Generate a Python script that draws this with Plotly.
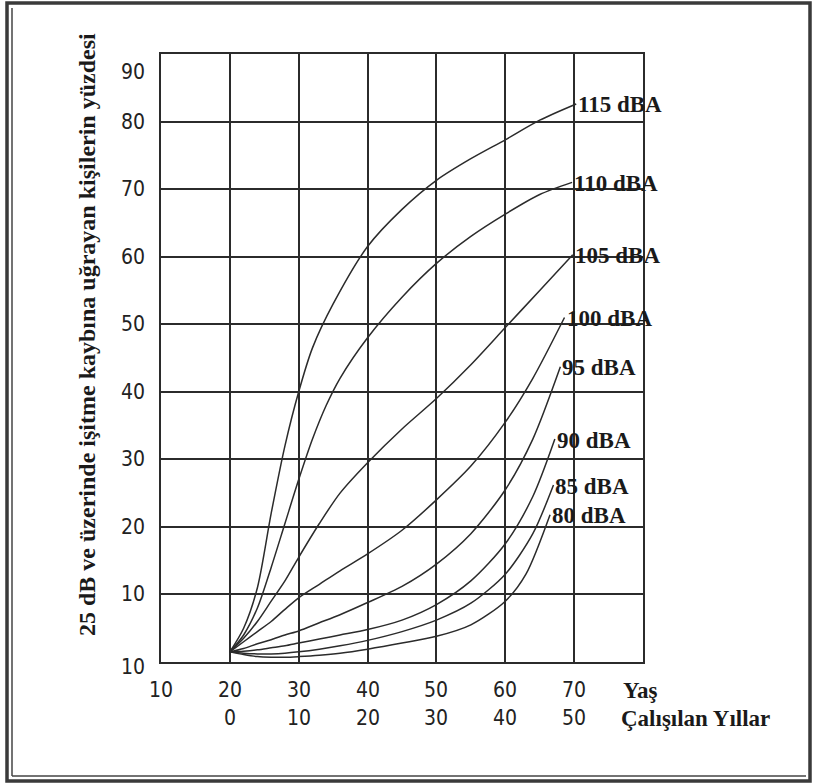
import plotly.graph_objects as go

# ---------------- data ----------------
curve_labels = ["115 dBA", "110 dBA", "105 dBA", "100 dBA", "95 dBA", "90 dBA", "85 dBA", "80 dBA"]

x_115 = [20, 22, 24, 26, 28, 30, 32, 35, 40, 45, 50, 55, 60, 65, 70.3]
y_115 = [1.5, 5, 11, 22, 32, 40, 46.5, 53, 61.5, 67, 71.3, 74.5, 77.3, 80.2, 82.6]

x_110 = [20, 22, 24, 26, 28, 30, 32, 34, 36, 40, 45, 50, 55, 60, 65, 69.7]
y_110 = [1.5, 4, 8, 14, 20.5, 27, 33, 38, 42, 48, 54, 59, 63, 66.3, 69.2, 71]

x_105 = [20, 22, 24, 26, 28, 30, 33, 36, 40, 45, 50, 55, 60, 65, 69.8]
y_105 = [1.5, 3.5, 6, 9, 12, 15.5, 20.5, 25, 29.5, 34.5, 39, 44, 49.5, 55, 60.3]

x_100 = [20, 22, 24, 26, 28, 30, 33, 36, 40, 45, 50, 55, 60, 64, 68.6]
y_100 = [1.5, 3, 4.5, 6, 7.8, 9.5, 11.5, 13.5, 16, 19.5, 24, 29, 35.5, 42, 51]

x_95 = [20, 22, 24, 26, 28, 30, 33, 36, 40, 45, 50, 55, 60, 64, 68]
y_95 = [1.5, 2, 2.7, 3.3, 4, 4.6, 5.8, 7, 8.8, 11.2, 14.5, 19, 25.5, 33, 43.7]

x_90 = [20, 22, 24, 26, 28, 30, 33, 36, 40, 45, 50, 55, 60, 64, 67.2]
y_90 = [1.5, 1.6, 1.8, 2.1, 2.4, 2.8, 3.4, 4.0, 4.8, 6.2, 8.5, 12, 17.5, 24.5, 33]

x_85 = [20, 22, 24, 26, 28, 30, 33, 36, 40, 45, 50, 55, 60, 64, 67]
y_85 = [1.5, 1.3, 1.2, 1.2, 1.3, 1.5, 1.9, 2.4, 3.2, 4.5, 6.2, 8.7, 13, 19, 26.2]

x_80 = [20, 22, 24, 26, 28, 30, 33, 36, 40, 45, 50, 55, 60, 63, 66.5]
y_80 = [1.5, 1.1, 0.8, 0.7, 0.7, 0.8, 1.0, 1.3, 1.9, 2.8, 3.8, 5.5, 9, 13, 21.8]

curves_x = [x_115, x_110, x_105, x_100, x_95, x_90, x_85, x_80]
curves_y = [y_115, y_110, y_105, y_100, y_95, y_90, y_85, y_80]

y_tick_values = [0, 10, 20, 30, 40, 50, 60, 70, 80, 90]
y_tick_text = ["10", "10", "20", "30", "40", "50", "60", "70", "80", "90"]
x_tick_values = [10, 20, 30, 40, 50, 60, 70, 80]
age_values = [10, 20, 30, 40, 50, 60, 70]
age_text = ["10", "20", "30", "40", "50", "60", "70"]
work_values = [20, 30, 40, 50, 60, 70]
work_text = ["0", "10", "20", "30", "40", "50"]

y_title = "25 dB ve üzerinde işitme kaybına uğrayan kişilerin yüzdesi"
age_title = "Yaş"
work_title = "Çalışılan Yıllar"

# ---------------- layout geometry ----------------
W, H = 813, 783
L, R, T, B = 161, 170, 54, 121
PW, PH = W - L - R, H - T - B


def px(xp):
    return (xp - L) / PW


def py(yp):
    return (H - B - yp) / PH


LINE = "#2b2b2b"
NUM_FONT = dict(family="Liberation Sans Narrow, DejaVu Sans Condensed, Arial Narrow, sans-serif",
                size=21, color="#222222")
BOLD_SERIF = dict(family="Liberation Serif, Times New Roman, serif", size=23, color="#1a1a1a")

fig = go.Figure()

for name, xs, ys in zip(curve_labels, curves_x, curves_y):
    fig.add_trace(go.Scatter(
        x=xs, y=ys, mode="lines", name=name,
        line=dict(color=LINE, width=1.5, shape="spline", smoothing=0.8),
        hoverinfo="name+x+y", showlegend=False,
    ))

annotations = []
# curve labels at curve ends
for name, xs, ys in zip(curve_labels, curves_x, curves_y):
    annotations.append(dict(
        x=xs[-1], y=ys[-1], xref="x", yref="y", text="<b>" + name + "</b>",
        showarrow=False, xanchor="left", yanchor="middle", xshift=0, yshift=-1,
        font=BOLD_SERIF,
    ))

# y tick labels
for i, (v, t) in enumerate(zip(y_tick_values, y_tick_text)):
    shift = 0
    if i == len(y_tick_values) - 1:
        shift = -18
    elif i == 0:
        shift = -5
    annotations.append(dict(
        x=px(147), y=v, xref="paper", yref="y", text=t, showarrow=False,
        xanchor="right", yanchor="middle", yshift=shift, font=NUM_FONT,
    ))

# x tick labels, two rows
for v, t in zip(age_values, age_text):
    annotations.append(dict(
        x=v, y=py(690), xref="x", yref="paper", text=t, showarrow=False,
        xanchor="center", yanchor="middle", font=NUM_FONT,
    ))
for v, t in zip(work_values, work_text):
    annotations.append(dict(
        x=v, y=py(718), xref="x", yref="paper", text=t, showarrow=False,
        xanchor="center", yanchor="middle", font=NUM_FONT,
    ))

annotations.append(dict(
    x=px(621), y=py(690), xref="paper", yref="paper", text="<b>" + age_title + "</b>",
    showarrow=False, xanchor="left", yanchor="middle", font=BOLD_SERIF,
))
annotations.append(dict(
    x=px(619), y=py(718), xref="paper", yref="paper", text="<b>" + work_title + "</b>",
    showarrow=False, xanchor="left", yanchor="middle", font=BOLD_SERIF,
))

# rotated y title
annotations.append(dict(
    x=px(87), y=py(335), xref="paper", yref="paper", text="<b>" + y_title + "</b>",
    showarrow=False, textangle=-90, xanchor="center", yanchor="middle",
    font=dict(family="Liberation Serif, Times New Roman, serif", size=24, color="#1a1a1a"),
))

shapes = [
    # outer frame
    dict(type="rect", xref="paper", yref="paper",
         x0=px(7), x1=px(810), y0=py(781), y1=py(3),
         line=dict(color="#3a3a3a", width=3.5), layer="above"),
    # inner shadow lines left and bottom
    dict(type="line", xref="paper", yref="paper",
         x0=px(12), x1=px(12), y0=py(776), y1=py(8),
         line=dict(color="#444444", width=1.5)),
    dict(type="line", xref="paper", yref="paper",
         x0=px(12), x1=px(806), y0=py(776), y1=py(776),
         line=dict(color="#444444", width=1.5)),
]

fig.update_layout(
    width=W, height=H, autosize=False,
    margin=dict(l=L, r=R, t=T, b=B, pad=0),
    paper_bgcolor="white", plot_bgcolor="white",
    showlegend=False,
    annotations=annotations,
    shapes=shapes,
    xaxis=dict(range=[10, 80], tickvals=x_tick_values, showticklabels=False,
               showgrid=True, gridcolor=LINE, gridwidth=2, zeroline=False,
               showline=True, linecolor=LINE, linewidth=2, mirror=True, ticks=""),
    yaxis=dict(range=[0, 90], tickvals=y_tick_values, showticklabels=False,
               showgrid=True, gridcolor=LINE, gridwidth=2, zeroline=False,
               showline=True, linecolor=LINE, linewidth=2, mirror=True, ticks=""),
)

fig.write_html(
    "out.html",
    config={"displayModeBar": False},
    post_script="document.body.style.margin='0';document.body.style.padding='0';"
                "document.body.style.overflow='hidden';",
)
